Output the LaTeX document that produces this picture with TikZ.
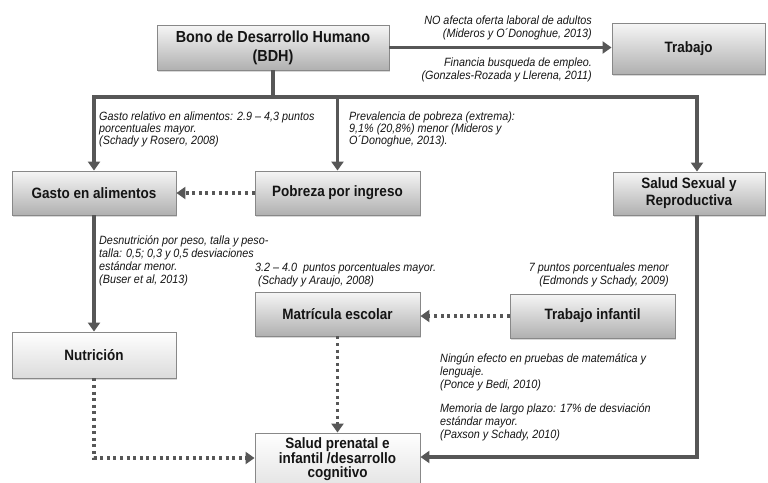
\documentclass[tikz,border=0pt]{standalone}
\usepackage{fontspec}
\setmainfont{Liberation Sans}[FakeStretch=0.9]
\usetikzlibrary{arrows.meta,shadows,calc}
\definecolor{lineg}{HTML}{575757}
\definecolor{boxtop}{HTML}{F6F6F6}
\definecolor{boxbot}{HTML}{B0B0B0}
\definecolor{boxborder}{HTML}{888888}
\definecolor{txt}{HTML}{141414}
\newcommand\notesL[1]{\begin{tabular}[t]{@{}l@{}}#1\end{tabular}}
\newcommand\notesR[1]{\begin{tabular}[t]{@{}r@{}}#1\end{tabular}}
\tikzset{
  box/.style={draw=boxborder, line width=0.9pt, top color=boxtop, bottom color=boxbot,
    font=\bfseries\fontsize{15}{17}\selectfont, align=center, text=txt, inner sep=0pt,
    drop shadow={shadow xshift=1.2pt, shadow yshift=-1.8pt, fill=black!30}},
  lightbox/.style={box, top color=white, bottom color=black!14},
  arr/.style={draw=lineg, line width=3.3pt, -{Triangle[length=9pt,width=12pt]}},
  dotarr/.style={arr, dash pattern=on 3pt off 3.6pt},
  note/.style={font=\itshape\fontsize{12}{13.2}\selectfont, inner sep=0pt, text=txt},
  tightnote/.style={note, font=\itshape\fontsize{12}{11.8}\selectfont},
}
\begin{document}
\begin{tikzpicture}[x=1pt,y=-1pt]
\useasboundingbox (0,0) rectangle (768,482);
% boxes
\node[box, minimum width=232pt, minimum height=45pt, font=\bfseries\fontsize{16}{19}\selectfont] (bdh) at (273,47.5) {Bono de Desarrollo Humano\\(BDH)};
\node[box, minimum width=153pt, minimum height=51pt] (trab) at (688.5,48.5) {Trabajo};
\node[box, minimum width=164pt, minimum height=44pt] (gasto) at (94,193) {Gasto en alimentos};
\node[box, minimum width=165pt, minimum height=44pt] (pob) at (337.5,193) {Pobreza por ingreso};
\node[box, minimum width=152pt, minimum height=43pt] (ss) at (689,193.5) {Salud Sexual y\\Reproductiva};
\node[lightbox, minimum width=164pt, minimum height=46pt] (nutr) at (94,355) {Nutrición};
\node[box, minimum width=165pt, minimum height=44pt] (mat) at (337.5,314) {Matrícula escolar};
\node[box, minimum width=165pt, minimum height=44pt] (ti) at (592.5,316) {Trabajo infantil};
\node[lightbox, minimum width=165pt, minimum height=70pt] (sp) at (337.5,468) {};
\node[font=\bfseries\fontsize{15}{14.6}\selectfont, align=center, text=txt, inner sep=0pt] (sptext) at (337.5,459.5) {Salud prenatal e\\infantil /desarrollo\\cognitivo};
% junction coordinates
\coordinate (jL) at (94,97);
\coordinate (jM) at (337.5,97);
\coordinate (jR) at (697,97);
\coordinate (cL) at (94,458);
\coordinate (cR) at (697,457);
% connectors
\draw[arr] (bdh.east) -- (bdh.east -| trab.west);
\draw[arr] (bdh.south) |- (jL) -- (gasto.north);
\draw[arr] (bdh.south) |- (jR) -- (jR |- ss.north);
\draw[arr] (jM) -- (pob.north);
\draw[dotarr] (pob.west) -- (gasto.east);
\draw[arr] (gasto.south) -- (nutr.north);
\draw[dotarr] (nutr.south) -- (cL) -- (cL -| sp.west);
\draw[dotarr] (ti.west) -- (ti.west -| mat.east);
\draw[dotarr] (mat.south) -- (sp.north);
\draw[arr] (cR |- ss.south) -- (cR) -- (cR -| sp.east);
% notes
\node[note, anchor=base east] (n1) at (592,24) {\notesR{NO afecta oferta laboral de adultos\\(Mideros y O´Donoghue, 2013)}};
\node[note, anchor=base east] (n2) at (592,66) {\notesR{Financia busqueda de empleo.\\(Gonzales-Rozada y Llerena, 2011)}};
\node[tightnote, anchor=base west] (n3) at (99,120) {\notesL{Gasto relativo en alimentos: 2.9 – 4,3 puntos\\porcentuales mayor.\\(Schady y Rosero, 2008)}};
\node[tightnote, anchor=base west] (n4) at (349,120) {\notesL{Prevalencia de pobreza (extrema):\\9,1\% (20,8\%) menor (Mideros y\\O´Donoghue, 2013).}};
\node[note, anchor=base west] (n5) at (99,244) {\notesL{Desnutrición por peso, talla y peso-\\talla: 0,5; 0,3 y 0,5 desviaciones\\estándar menor.\\(Buser et al, 2013)}};
\node[note, anchor=base west] (n6) at (255,271) {\notesL{3.2 – 4.0\ \ puntos porcentuales mayor.\\\ (Schady y Araujo, 2008)}};
\node[note, anchor=base east] (n7) at (669,271) {\notesR{7 puntos porcentuales menor\\(Edmonds y Schady, 2009)}};
\node[note, anchor=base west] (n8) at (440,362) {\notesL{Ningún efecto en pruebas de matemática y\\lenguaje.\\(Ponce y Bedi, 2010)}};
\node[note, anchor=base west] (n9) at (440,412) {\notesL{Memoria de largo plazo: 17\% de desviación\\estándar mayor.\\(Paxson y Schady, 2010)}};
\end{tikzpicture}
\end{document}
